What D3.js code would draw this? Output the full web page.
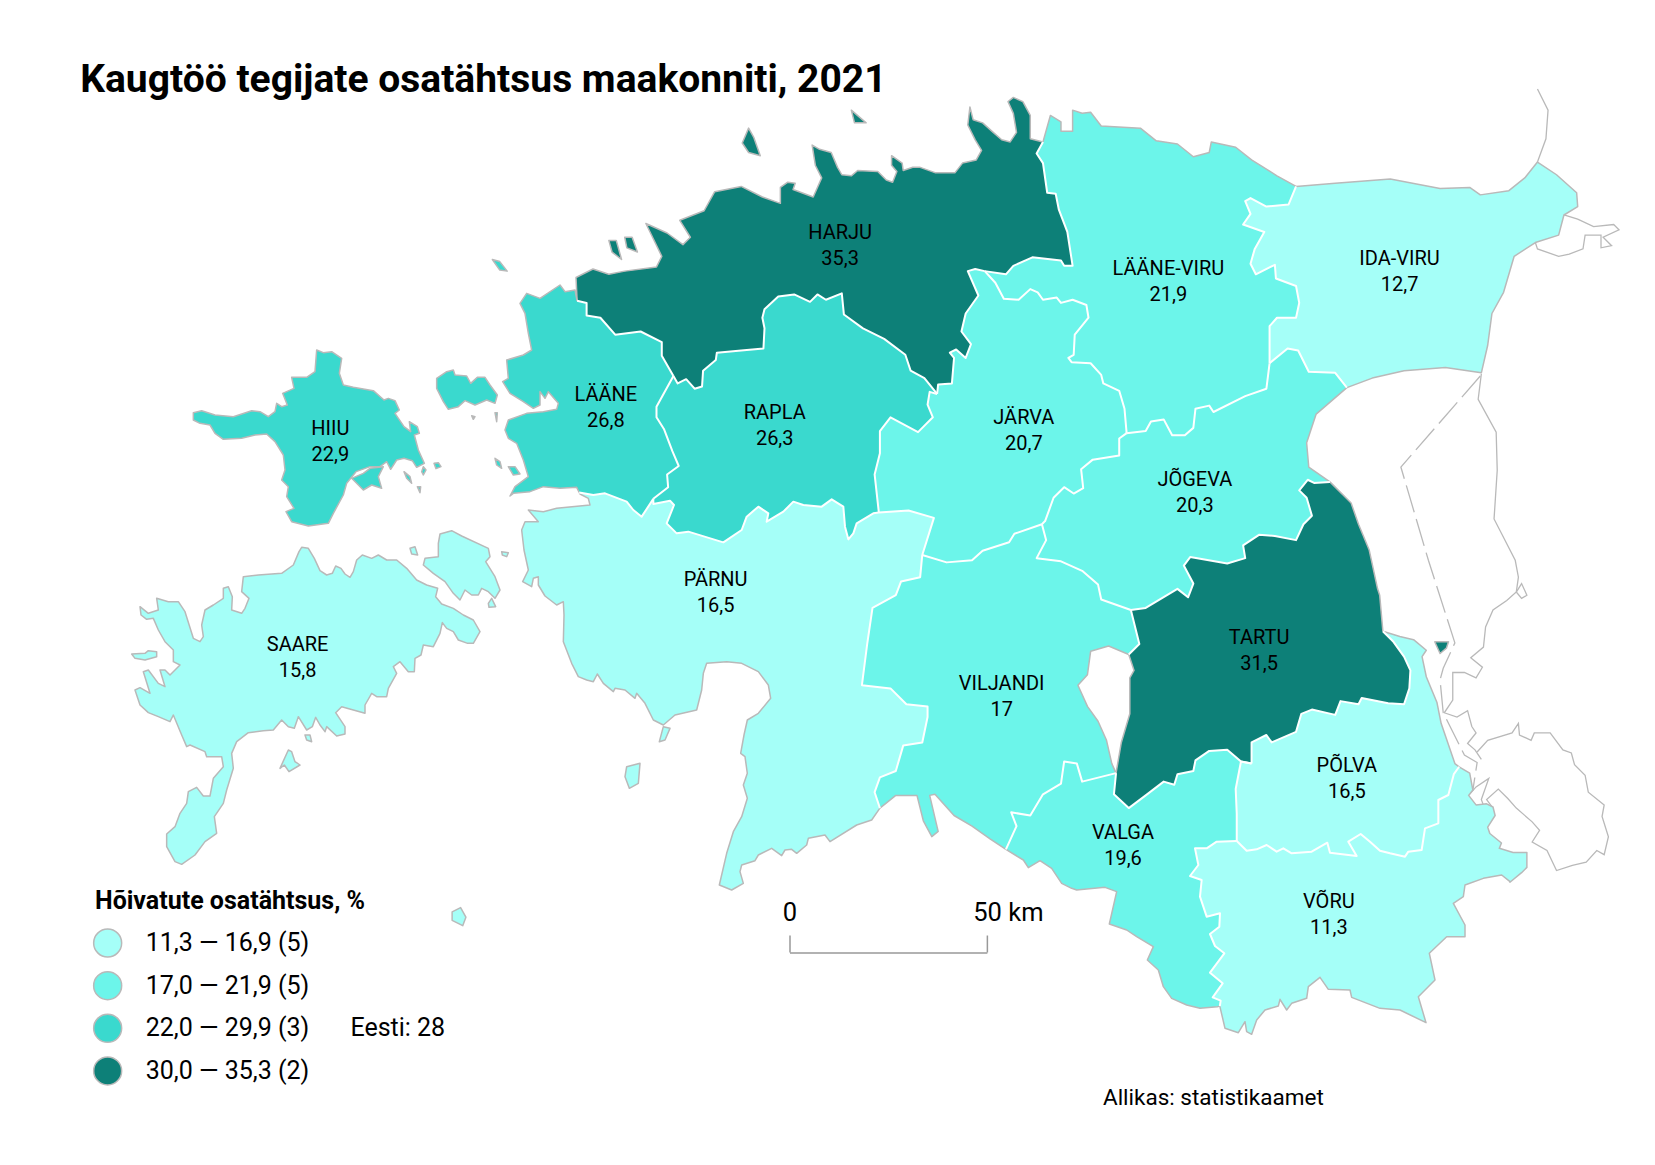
<!DOCTYPE html>
<html>
<head>
<meta charset="utf-8">
<script src="https://d3js.org/d3.v7.min.js"></script>
<style>
  html, body { margin: 0; background: #fff; }
  svg text { font-family: Roboto, sans-serif; fill: #000; }
</style>
</head>
<body>
<svg id="map" width="1655" height="1165"></svg>
<script>
// values
var countyNames = ["HARJU", "LÄÄNE-VIRU", "IDA-VIRU", "LÄÄNE", "RAPLA", "JÄRVA", "JÕGEVA", "HIIU", "SAARE", "PÄRNU", "VILJANDI", "TARTU", "PÕLVA", "VALGA", "VÕRU"];
var countyValues = [35.3, 21.9, 12.7, 26.8, 26.3, 20.7, 20.3, 22.9, 15.8, 16.5, 17, 31.5, 16.5, 19.6, 11.3];
var classBreaks = [17, 22, 30];
var classColors = ["#a5fff8", "#6cf5ea", "#3ad9ce", "#0d8078"];
var legendLabels = ["11,3 — 16,9", "17,0 — 21,9", "22,0 — 29,9", "30,0 — 35,3"];

var width = 1655, height = 1165;
var x = d3.scaleLinear().domain([0, 1563]).range([0, width]);
var y = d3.scaleLinear().domain([0, 1100]).range([0, height]);
var tx = d3.scaleLinear().domain([0, 1568]).range([0, width]);
var ty = d3.scaleLinear().domain([0, 1102]).range([0, height]);

// some coasts were traced on 3x crops, this brings them back to map units
function fromCrop(left, top, pts) {
    return pts.map(function(p) { return [x.invert(left + p[0] / 3), y.invert(top + p[1] / 3)]; });
}

// outlines, in map units (traced), shared borders kept once
var cHarju = [[545,284],[544,262],[560,254],[575,259],[590,256],[620,252],[625,242],[610,211],[630,220],[645,231],[652,224],[642,208],[665,199],[675,181],[700,176],[720,186],[737,192],[737,177],[744,172],[751,173],[749,179],[768,186],[776,168],[770,156],[767,137],[774,141],[785,144],[791,158],[795,165],[804,166],[810,161],[829,162],[837,170],[843,172],[847,162],[842,156],[842,147],[852,154],[853,161],[862,158],[869,158],[883,163],[902,163],[909,154],[922,151],[927,142],[921,132],[914,118],[916,101],[919,113],[928,116],[938,125],[946,132],[954,134],[960,125],[957,107],[952,96],[957,92],[966,96],[973,109],[973,131],[985,134]];
var cLV = [[985,134],[992,109],[1002,115],[1002,124],[1013,124],[1013,104],[1022,107],[1030,106],[1040,119],[1077,121],[1092,133],[1112,136],[1127,148],[1142,144],[1144,134],[1167,139],[1182,151],[1206,166],[1224,176]];
var cIda = [[1224,176],[1261,173],[1313,169],[1360,178],[1388,177],[1398,184],[1425,180],[1440,168],[1452,153],[1470,165],[1489,182],[1490,195],[1477,203],[1472,222],[1450,229],[1430,242],[1420,276],[1409,296],[1405,326],[1399,352],[1365,347],[1326,350],[1296,357],[1272,366]];
var cJogeva = [[1272,366],[1243,391],[1234,418],[1236,441],[1256,455]];
var cTartu = [[1256,455],[1276,475],[1283,495],[1293,519],[1301,556],[1303,562],[1306,596]];
var cPolva = [[1306,596],[1322,601],[1335,604],[1347,614],[1343,620],[1347,639],[1357,663],[1361,683],[1374,721],[1378,724]];
var cVoru = [[[1152,950]], fromCrop(990, 790, [[705,715],[745,728],[765,695],[770,725],[785,733],[800,690],[825,660],[865,648],[870,628],[890,660],[905,640],[950,625],[955,590],[990,562],[1015,598],[1080,600],[1085,622],[1170,655],[1230,660],[1308,698],[1285,620],[1335,570],[1318,490],[1370,440],[1425,440],[1425,405],[1390,340],[1420,320],[1425,285],[1480,265],[1535,255],[1560,275]]), [[1426,833],[1437,824],[1442,819],[1442,805],[1429,805],[1416,801],[1418,796],[1407,787],[1405,781],[1412,770],[1410,762],[1404,759],[1394,760],[1387,751],[1391,746],[1388,730],[1378,724]]].flat();
var cValga = [[[950,802]], fromCrop(990, 790, [[100,210],[115,233],[150,212],[185,235],[215,280],[245,295],[260,300],[290,297],[345,292],[380,305],[358,402],[410,420],[440,440],[490,470],[472,510],[505,540],[520,590],[545,625],[590,645],[630,655],[682,650]]), [[1152,950]]].flat();
var cViljandi = [[831,763],[846,751],[866,751],[872,775],[880,790],[886,785],[878,751],[883,750],[901,770],[918,780],[935,792],[950,802]];
var cParnu = [[[831,763]], fromCrop(510, 490, [[1085,990],[1040,1005],[960,1055],[945,1035],[895,1045],[890,1065],[860,1090],[845,1078],[825,1080],[815,1097],[785,1075],[745,1095],[735,1112],[695,1125],[690,1145],[700,1180],[665,1200],[628,1185],[650,1090],[670,1025],[695,980],[712,925],[700,885],[712,850],[705,800],[692,790],[702,735],[712,690],[745,670],[782,625],[775,585],[745,545],[695,520],[650,515],[590,520],[580,550],[575,600],[560,660],[495,675],[460,705],[430,690],[405,640],[380,610],[375,625],[345,600],[315,595],[310,605],[280,580],[262,552],[250,575],[230,570],[205,560],[185,520],[160,455],[162,375],[160,335],[140,345],[105,318],[85,285],[85,260],[70,265],[65,290],[38,275],[55,240],[42,180],[35,120],[45,95],[85,95],[55,60],[100,65],[140,55],[240,45],[235,25],[210,12]]), [[547,465]]].flat();
var cLaane = [[[547,465]], fromCrop(180, 270, [[1190,652],[1140,655],[1090,650],[1050,665],[1000,670],[990,678],[1005,650],[1045,620],[1030,570],[1010,520],[985,505],[975,480],[985,450],[1040,430],[1090,425],[1130,418],[1135,400],[1105,365],[1095,385],[1080,365],[1080,405],[1060,415],[1030,395],[990,370],[968,335],[985,325],[980,270],[1030,255],[1055,240],[1045,190],[1035,130],[1020,100],[1040,70],[1080,85],[1140,45],[1155,65],[1185,60]]), [[545,284]]].flat();
var lakeE = [[1054,730],[1059,701],[1067,674],[1067,640],[1071,633],[1066,618]];
var lakeW = [[1066,618],[1047,610],[1030,615],[1027,637],[1018,647],[1027,667],[1037,681],[1045,699],[1050,721],[1054,730]];

var bLaaneHarju = [[545,284],[554,286],[554,298],[567,300],[581,316],[605,313],[625,323],[625,336],[636,355]];
var bHarjuRapla = [[636,355],[640,362],[648,358],[656,367],[663,365],[664,350],[676,340],[677,333],[700,331],[721,329],[722,310],[720,300],[722,292],[735,280],[750,278],[765,285],[772,278],[780,283],[795,277],[797,297],[815,310],[835,320],[855,335],[860,350],[873,357],[885,372]];
var bHarjuJarva = [[885,372],[886,363],[899,362],[901,338],[897,333],[903,330],[912,338],[917,325],[908,313],[912,296],[924,279],[914,256],[921,254],[930,256]];
var bHarjuLV = [[930,256],[950,259],[957,251],[975,243],[1002,246],[1005,251],[1013,251],[1008,219],[1000,198],[997,183],[989,182],[985,154],[979,145],[985,134]];
var bJarvaLV = [[930,256],[940,267],[948,282],[962,283],[973,273],[980,276],[985,283],[998,281],[1002,286],[1013,283],[1026,288],[1028,300],[1015,316],[1014,335],[1009,338],[1012,342],[1030,343],[1040,354],[1042,362],[1057,369],[1062,386],[1064,409]];
var bLVJogeva = [[1064,409],[1082,407],[1087,398],[1099,396],[1107,411],[1119,411],[1127,404],[1129,386],[1142,383],[1146,389],[1176,374],[1196,367],[1199,343]];
var bLVIda = [[1199,343],[1199,308],[1206,300],[1224,300],[1227,286],[1224,270],[1205,263],[1204,250],[1186,259],[1181,249],[1185,235],[1194,219],[1174,212],[1181,202],[1176,190],[1181,187],[1196,195],[1217,193],[1224,176]];
var bIdaJogeva = [[1199,343],[1216,329],[1226,331],[1236,351],[1261,352],[1272,366]];
var bJogevaTartu = [[1256,455],[1241,456],[1235,453],[1227,463],[1234,470],[1239,487],[1231,495],[1224,510],[1204,506],[1189,505],[1174,515],[1176,527],[1159,532],[1124,526],[1118,534],[1127,551],[1122,564],[1112,556],[1082,574],[1068,576]];
var bViljandiJogeva = [[1068,576],[1040,566],[1037,552],[1022,539],[1002,530],[979,527],[988,510],[984,495]];
var bJarvaJogeva = [[1064,409],[1057,414],[1057,430],[1032,434],[1021,443],[1023,461],[1014,466],[1005,460],[995,470],[987,492],[984,495]];
var bJarvaViljandi = [[984,495],[958,504],[953,512],[928,520],[918,529],[894,531],[871,524]];
var bJarvaParnu = [[871,524],[882,489],[858,482],[830,484]];
var bRaplaJarva = [[885,372],[878,370],[876,382],[881,394],[867,408],[841,394],[831,407],[831,428],[826,448],[830,484]];
var bRaplaParnu = [[[830,484]], fromCrop(510, 490, [[1090,70],[1040,100],[1030,130],[1015,148],[1005,110],[1000,50],[965,28],[935,50],[880,45],[850,35],[820,65],[770,95],[775,70],[745,50],[710,80],[695,120],[640,157],[535,125],[500,130],[470,100],[492,45],[480,32],[430,42]]), [[617,471]]].flat();
var bLaaneRapla = [[636,355],[620,384],[620,394],[627,405],[635,426],[641,440],[630,448],[631,460],[617,471]];
var bLaaneParnu = [[[617,471]], fromCrop(510, 490, [[395,80],[370,60],[350,35],[285,10],[250,15]]), [[547,465]]].flat();
var bViljandiParnu = [[871,524],[869,545],[851,549],[846,562],[824,574],[819,608],[814,647],[841,650],[856,665],[876,667],[876,677],[871,701],[853,704],[846,728],[831,734],[826,748],[831,763]];
var bViljandiTartu = [[1066,618],[1076,608],[1068,576]];
var bViljandiValga = [[1054,730],[1022,738],[1017,721],[1005,719],[1002,740],[985,750],[973,770],[955,767],[960,780],[950,802]];
var bTartuPolva = [[1306,596],[1316,606],[1326,620],[1332,633],[1331,650],[1326,665],[1311,664],[1286,659],[1283,665],[1266,662],[1261,675],[1239,670],[1229,674],[1224,691],[1201,701],[1196,694],[1182,701],[1182,721]];
var bTartuValga = [[1182,721],[1172,719],[1159,708],[1142,709],[1129,718],[1127,728],[1112,731],[1109,741],[1099,738],[1082,751],[1066,763],[1052,750],[1054,730]];
var bPolvaVoru = [[[1378,724],[1373,731]], fromCrop(990, 790, [[1375,15],[1345,30],[1345,100],[1305,115],[1295,180],[1255,185],[1245,200],[1200,190],[1170,182],[1140,155],[1112,132],[1075,155],[1100,198],[1020,188],[1012,158],[965,185],[905,190],[880,175],[860,185],[830,165],[800,178],[770,182]]), [[1168,794]]].flat();
var bPolvaValga = [[1168,794],[1168,768],[1167,745],[1172,719],[1182,721]];
var bValgaVoru = [[[1168,794]], fromCrop(990, 790, [[680,155],[650,175],[615,175],[625,225],[600,258],[635,270],[630,320],[650,380],[690,370],[688,410],[660,432],[675,468],[703,490],[660,548],[698,580],[668,622],[692,632]]), [[1152,950]]].flat();

var hiiuLand = fromCrop(180, 270, [[40,428],[65,422],[105,435],[160,440],[215,422],[240,425],[265,440],[285,425],[290,400],[305,410],[322,405],[308,370],[342,355],[335,322],[380,322],[405,305],[410,240],[430,248],[455,245],[485,265],[478,310],[490,345],[520,352],[580,362],[612,390],[625,385],[645,392],[658,420],[645,430],[672,470],[692,485],[688,455],[712,470],[718,490],[703,495],[715,540],[733,580],[710,592],[697,572],[672,565],[650,570],[632,598],[620,575],[600,590],[570,590],[528,605],[500,640],[490,675],[460,730],[445,760],[385,768],[335,755],[318,725],[342,715],[320,680],[325,650],[305,630],[315,600],[310,555],[285,515],[260,492],[225,495],[185,505],[130,508],[105,490],[90,465],[60,460],[40,450]]);
var kassari = fromCrop(180, 270, [[515,625],[550,610],[570,595],[610,590],[595,620],[605,655],[575,645],[550,660],[530,640]]);
var hiiuIslets = [[[672,605],[690,620],[695,640],[680,625]], [[730,590],[738,600],[730,615],[725,605]], [[712,650],[722,650],[720,668]], [[762,580],[775,578],[783,590],[768,596]]].map(function(s) { return fromCrop(180, 270, s); });
var saareLand = fromCrop(125, 530, [[530,52],[550,55],[568,85],[585,122],[605,135],[622,130],[632,108],[648,115],[660,132],[675,142],[685,125],[695,90],[712,75],[740,85],[760,75],[785,90],[815,90],[845,115],[875,150],[905,165],[938,175],[932,200],[950,222],[985,235],[1015,255],[1045,270],[1065,305],[1045,340],[1028,340],[1000,330],[985,305],[965,295],[952,278],[945,310],[925,350],[895,345],[888,375],[870,385],[868,425],[850,425],[825,395],[805,410],[815,430],[790,475],[785,500],[755,500],[740,490],[720,525],[720,550],[685,540],[650,530],[632,548],[660,590],[660,612],[635,618],[605,590],[600,605],[585,585],[572,562],[562,590],[545,600],[520,560],[508,595],[490,590],[470,570],[445,600],[415,602],[370,608],[335,635],[320,670],[325,715],[305,780],[295,820],[268,860],[275,910],[240,935],[210,975],[170,1003],[150,995],[125,950],[125,912],[150,890],[165,850],[185,820],[190,785],[215,772],[235,798],[255,798],[265,745],[295,710],[290,680],[245,680],[240,665],[195,645],[185,650],[170,615],[145,555],[135,575],[100,560],[70,548],[45,525],[30,480],[45,473],[75,490],[55,425],[70,420],[100,460],[120,470],[105,420],[120,420],[135,435],[165,405],[145,395],[145,360],[120,335],[100,300],[85,265],[65,268],[48,255],[45,230],[70,250],[100,240],[95,205],[130,215],[160,215],[180,245],[205,325],[225,335],[235,320],[230,285],[240,240],[265,225],[295,205],[295,175],[310,170],[322,200],[320,240],[350,250],[360,235],[372,205],[350,185],[355,140],[400,135],[470,130],[505,105],[522,65]]);
var muhu = fromCrop(125, 530, [[945,12],[980,2],[1010,18],[1090,55],[1095,80],[1082,95],[1110,140],[1125,180],[1110,205],[1090,185],[1070,175],[1060,195],[1040,195],[1020,180],[1005,210],[985,190],[960,155],[925,130],[895,105],[900,85],[940,80],[940,40]]);
var saareIslets = [[[855,55],[870,50],[878,75],[860,72]], [[1130,65],[1150,68],[1145,80],[1132,75]], [[1090,220],[1100,205],[1112,230],[1092,232]], [[490,660],[500,665],[510,695],[525,705],[492,725],[478,705],[465,715]], [[540,615],[555,615],[560,635],[545,630]], [[20,372],[60,370],[70,362],[95,365],[95,380],[60,390],[30,385]]].map(function(s) { return fromCrop(125, 530, s); });
var vormsi = fromCrop(180, 270, [[770,325],[800,305],[820,300],[825,315],[860,318],[872,340],[892,322],[915,322],[930,345],[952,375],[945,400],[920,390],[885,405],[855,392],[835,410],[805,418],[790,395],[770,355]]);
var laaneIslets = [[[875,437],[885,440],[880,448]], [[945,428],[952,428],[950,455]], [[985,590],[1005,590],[1020,612],[1000,615]], [[945,565],[960,575],[965,595],[950,585]]].map(function(s) { return fromCrop(180, 270, s); });
var osmussaar = [[465,245],[472,247],[479,256],[472,255]];
var kihnu = fromCrop(510, 490, [[350,830],[390,820],[385,880],[358,895],[345,860]]);
var manija = fromCrop(510, 490, [[460,710],[480,715],[465,750],[448,755]]);
var ruhnu = [[427,861],[435,857],[440,866],[437,874],[427,869]];
var naissaar = [[707,121],[712,130],[718,147],[707,144],[701,135]];
var aegna = [[804,104],[818,116],[807,116]];
var pakri1 = [[575,227],[582,227],[587,245],[578,238]];
var pakri2 = [[590,224],[597,224],[602,238],[592,234]];
var piirissaar = [[1355,606],[1368,606],[1366,612],[1360,617]];

// neighbours across the border, drawn as thin grey lines only
var foreignLines = [
  [[1452,84],[1462,104],[1460,131],[1452,153]],
  [[1399,353],[1396,377],[1413,408],[1414,444],[1411,490],[1431,529],[1434,545],[1432,559],[1423,567],[1410,576],[1403,592],[1401,611],[1389,621],[1400,630],[1394,640],[1383,635],[1372,635],[1372,661],[1364,673],[1376,677],[1386,671],[1390,686],[1394,692],[1386,702],[1393,708],[1399,717]],
  [[1432,559],[1437,551],[1442,562],[1437,565],[1432,559]],
  [[1395,710],[1405,699],[1428,692],[1434,683],[1435,694],[1446,699],[1449,692],[1464,692],[1476,708],[1484,711],[1487,722],[1497,732],[1500,748],[1515,760],[1513,771],[1519,790],[1515,807],[1508,803],[1498,814],[1485,817],[1470,822],[1461,803],[1447,795],[1454,784],[1447,776],[1432,763],[1424,754],[1415,745],[1404,755],[1410,763]],
  [[1387,751],[1394,743],[1406,735],[1399,755],[1402,763]],
  [[1477,203],[1490,207],[1505,214],[1524,212],[1529,217],[1514,224],[1522,232],[1512,234],[1512,222],[1497,222],[1495,235],[1482,240],[1472,242],[1452,235],[1450,229]]
];
var dashedBorder = [[1398,355],[1323,441],[1349,529],[1374,607],[1363,631],[1360,642],[1363,673],[1383,713],[1395,720],[1391,746]];

var segments = {
  cHarju: cHarju, cLV: cLV, cIda: cIda, cJogeva: cJogeva, cTartu: cTartu, cPolva: cPolva, cVoru: cVoru, cValga: cValga,
  cViljandi: cViljandi, cParnu: cParnu, cLaane: cLaane, lakeE: lakeE, lakeW: lakeW,
  bLaaneHarju: bLaaneHarju, bHarjuRapla: bHarjuRapla, bHarjuJarva: bHarjuJarva, bHarjuLV: bHarjuLV, bJarvaLV: bJarvaLV,
  bLVJogeva: bLVJogeva, bLVIda: bLVIda, bIdaJogeva: bIdaJogeva, bJogevaTartu: bJogevaTartu, bViljandiJogeva: bViljandiJogeva,
  bJarvaJogeva: bJarvaJogeva, bJarvaViljandi: bJarvaViljandi, bJarvaParnu: bJarvaParnu, bRaplaJarva: bRaplaJarva,
  bRaplaParnu: bRaplaParnu, bLaaneRapla: bLaaneRapla, bLaaneParnu: bLaaneParnu, bViljandiParnu: bViljandiParnu,
  bViljandiTartu: bViljandiTartu, bViljandiValga: bViljandiValga, bTartuPolva: bTartuPolva, bTartuValga: bTartuValga,
  bPolvaVoru: bPolvaVoru, bPolvaValga: bPolvaValga, bValgaVoru: bValgaVoru
};

// each county ring walks its segments, "-" means walk it backwards
var rings = {
  "HARJU": ["cHarju", "-bHarjuLV", "-bHarjuJarva", "-bHarjuRapla", "-bLaaneHarju"],
  "LÄÄNE-VIRU": ["cLV", "-bLVIda", "-bLVJogeva", "-bJarvaLV", "bHarjuLV"],
  "IDA-VIRU": ["cIda", "-bIdaJogeva", "bLVIda"],
  "LÄÄNE": ["bLaaneHarju", "bLaaneRapla", "bLaaneParnu", "cLaane"],
  "RAPLA": ["bHarjuRapla", "bRaplaJarva", "bRaplaParnu", "-bLaaneRapla"],
  "JÄRVA": ["bJarvaLV", "bJarvaJogeva", "bJarvaViljandi", "bJarvaParnu", "-bRaplaJarva", "bHarjuJarva"],
  "JÕGEVA": ["bIdaJogeva", "cJogeva", "bJogevaTartu", "bViljandiJogeva", "-bJarvaJogeva", "bLVJogeva"],
  "PÄRNU": ["-bJarvaParnu", "bViljandiParnu", "cParnu", "-bLaaneParnu", "-bRaplaParnu"],
  "VILJANDI": ["-bViljandiJogeva", "-bViljandiTartu", "lakeW", "bViljandiValga", "-cViljandi", "-bViljandiParnu", "-bJarvaViljandi"],
  "TARTU": ["cTartu", "bTartuPolva", "bTartuValga", "lakeE", "bViljandiTartu", "-bJogevaTartu"],
  "PÕLVA": ["cPolva", "bPolvaVoru", "bPolvaValga", "-bTartuPolva"],
  "VALGA": ["-bPolvaValga", "bValgaVoru", "-cValga", "-bViljandiValga", "-bTartuValga"],
  "VÕRU": ["-bPolvaVoru", "-cVoru", "-bValgaVoru"]
};
var islands = {
  "HARJU": [naissaar, aegna, pakri1, pakri2],
  "LÄÄNE": [vormsi, osmussaar].concat(laaneIslets),
  "HIIU": [hiiuLand, kassari].concat(hiiuIslets),
  "SAARE": [saareLand, muhu, ruhnu].concat(saareIslets),
  "PÄRNU": [kihnu, manija],
  "TARTU": [piirissaar]
};

// label anchors in text units
var labelAt = {
  "HARJU": [796,232], "LÄÄNE-VIRU": [1107,266], "IDA-VIRU": [1326,256], "LÄÄNE": [574,385], "RAPLA": [734,402],
  "JÄRVA": [970,407], "JÕGEVA": [1132,465], "HIIU": [313,417], "SAARE": [282,621], "PÄRNU": [678,560],
  "VILJANDI": [949,658], "TARTU": [1193,615], "PÕLVA": [1276,736], "VALGA": [1064,799], "VÕRU": [1259,865]
};

var color = d3.scaleThreshold().domain(classBreaks).range(classColors);
var km = d3.scaleLinear().domain([0, 50]).range([tx(748), tx(935)]);
var coastGrey = "#b9b9b9";

var line = d3.line().x(function(d) { return x(d[0]); }).y(function(d) { return y(d[1]); });

function ringPoints(names) {
    var pts = [];
    names.forEach(function(n) {
        var back = n[0] == "-";
        var seg = segments[back ? n.slice(1) : n];
        pts = pts.concat(back ? seg.slice().reverse() : seg);
    });
    return pts;
}

var svg = d3.select("#map");

svg.append("text")
    .attr("x", tx(76)).attr("y", ty(87))
    .attr("font-size", 39).attr("font-weight", 700)
    .text("Kaugtöö tegijate osatähtsus maakonniti, 2021");

// foreign outlines go under the counties
var back = svg.append("g").attr("fill", "none").attr("stroke", coastGrey).attr("stroke-width", 1.3);
back.selectAll("path.foreign").data(foreignLines).enter().append("path")
    .attr("class", "foreign").attr("d", line);
back.append("path").datum(dashedBorder).attr("d", line)
    .attr("stroke-dasharray", "28 7");

var counties = svg.append("g");
countyNames.forEach(function(name, i) {
    var fill = color(countyValues[i]);
    var shapes = (rings[name] ? [ringPoints(rings[name])] : []).concat(islands[name] || []);
    counties.selectAll("path.c" + i).data(shapes).enter().append("path")
        .attr("class", "c" + i)
        .attr("d", function(d) { return line(d) + "Z"; })
        .attr("fill", fill);
});

// coast in grey, islands too, then inner borders in white on top
var coastNames = ["cHarju", "cLV", "cIda", "cJogeva", "cTartu", "cPolva", "cVoru", "cValga", "cViljandi", "cParnu", "cLaane", "lakeE", "lakeW"];
var borderNames = Object.keys(segments).filter(function(k) { return k[0] == "b"; });

var islandShapes = [];
Object.keys(islands).forEach(function(k) { islandShapes = islandShapes.concat(islands[k]); });

svg.append("g").attr("fill", "none").attr("stroke", coastGrey).attr("stroke-width", 1.5).attr("stroke-linejoin", "round")
    .selectAll("path").data(coastNames.map(function(k) { return segments[k]; }))
    .enter().append("path").attr("d", line);
svg.append("g").attr("fill", "none").attr("stroke", coastGrey).attr("stroke-width", 1.5).attr("stroke-linejoin", "round")
    .selectAll("path").data(islandShapes)
    .enter().append("path").attr("d", function(d) { return line(d) + "Z"; });

svg.append("g").attr("fill", "none").attr("stroke", "#fff").attr("stroke-width", 2).attr("stroke-linejoin", "round")
    .selectAll("path").data(borderNames.map(function(k) { return segments[k]; }))
    .enter().append("path").attr("d", line);

// county labels
var labels = svg.append("g").attr("text-anchor", "middle").attr("font-size", 20);
countyNames.forEach(function(name, i) {
    var at = labelAt[name];
    labels.append("text").attr("x", tx(at[0])).attr("y", ty(at[1]) - 6).text(name);
    labels.append("text").attr("x", tx(at[0])).attr("y", ty(at[1]) + 20).text(String(countyValues[i]).replace(".", ","));
});

// scale bar
var bar = svg.append("g").attr("transform", "translate(0," + ty(901) + ")")
    .call(d3.axisTop(km).tickValues([0, 50]).tickSize(17).tickSizeOuter(0).tickFormat(function(d) { return d ? d + " km" : d; }));
bar.select(".domain").attr("stroke", "#999").attr("stroke-width", 1.5);
bar.selectAll(".tick line").attr("stroke", "#999").attr("stroke-width", 1.5);
bar.selectAll(".tick text").attr("font-family", "Roboto, sans-serif").attr("font-size", 25.5).attr("y", -32).attr("dx", function(d) { return d ? 21 : 0; });

// legend
var legend = svg.append("g");
legend.append("text").attr("x", tx(90)).attr("y", ty(860)).attr("font-size", 25).attr("font-weight", 700).text("Hõivatute osatähtsus, %");

var legendY = d3.scalePoint().domain(legendLabels).range([ty(892), ty(1013)]);
var classCount = classColors.map(function(c) {
    return countyValues.filter(function(v) { return color(v) == c; }).length;
});
legend.selectAll("circle").data(legendLabels).enter().append("circle")
    .attr("cx", tx(102)).attr("cy", function(d) { return legendY(d); }).attr("r", 14)
    .attr("fill", function(d, i) { return classColors[i]; })
    .attr("stroke", coastGrey).attr("stroke-width", 1.5);
legend.selectAll("text.row").data(legendLabels).enter().append("text")
    .attr("class", "row").attr("x", tx(138)).attr("y", function(d) { return legendY(d) + 8; })
    .attr("font-size", 25)
    .text(function(d, i) { return d + " (" + classCount[i] + ")"; });

svg.append("text").attr("x", tx(332)).attr("y", legendY(legendLabels[2]) + 8).attr("font-size", 25).text("Eesti: 28");
svg.append("text").attr("x", tx(1045)).attr("y", ty(1045)).attr("font-size", 22.5).text("Allikas: statistikaamet");
</script>
</body>
</html>
